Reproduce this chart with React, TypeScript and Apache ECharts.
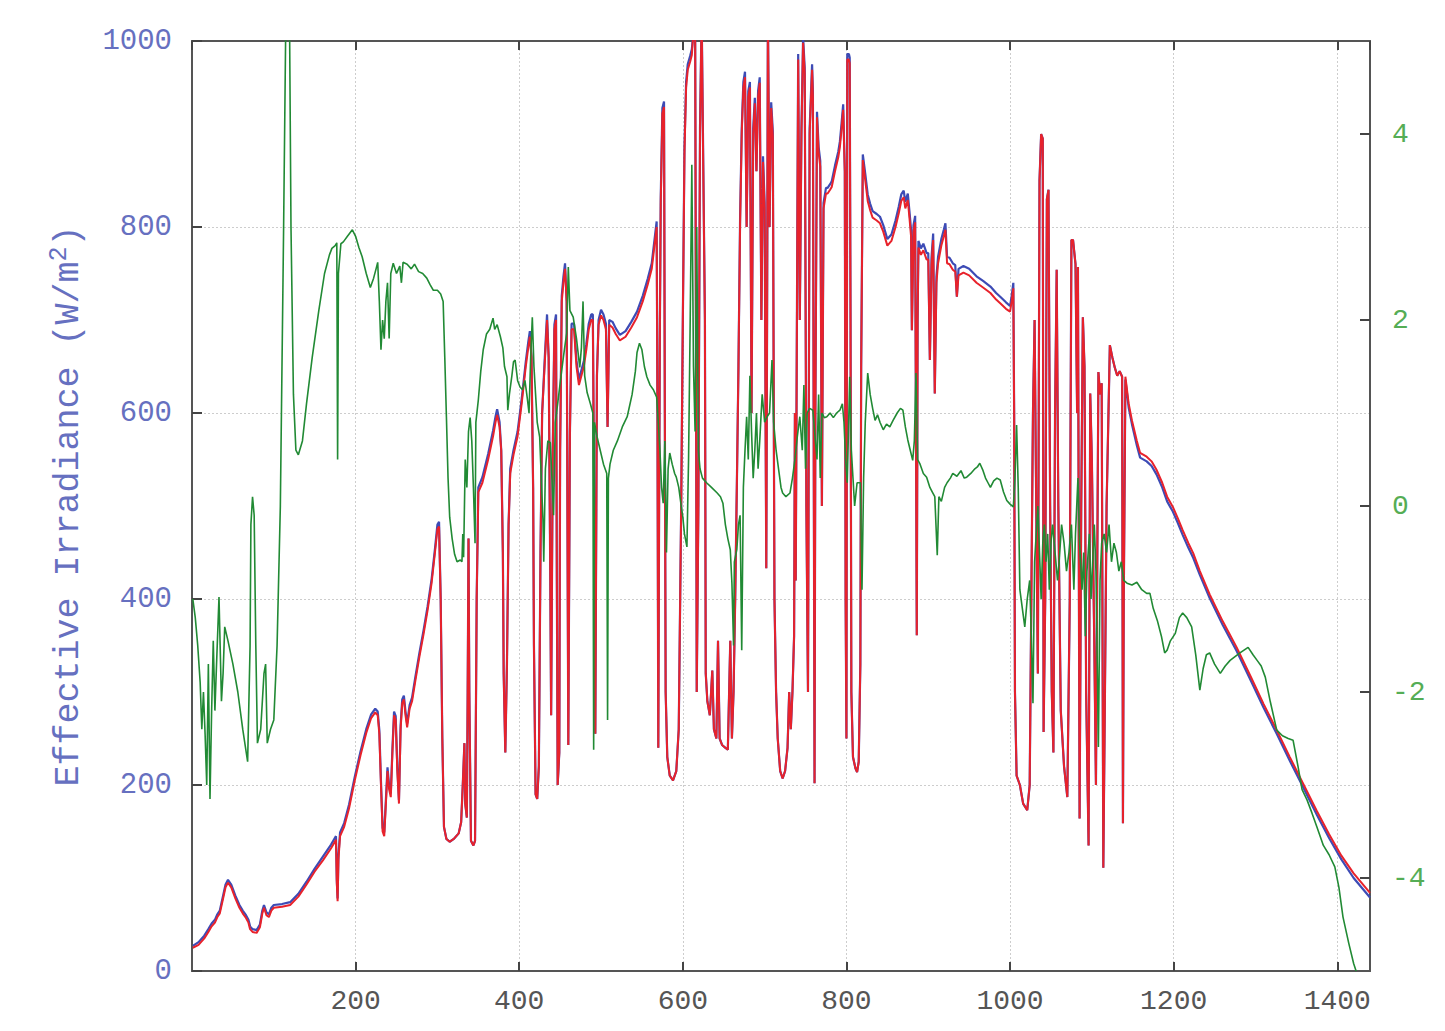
import React, { useEffect, useRef } from "react";
import * as echarts from "echarts";

// x: minute of day, y: effective irradiance W/m2 (red)
const redData: number[][] = [
  [1,25],[8,28],[15,35],[20,42],[24,48],[28,52],[31,58],[34,62],[38,78],[41,90],[44,95],[48,90],[53,78],[58,68],[62,62],[66,57],[69,52],[71,45],[74,42],[79,41],[83,47],[86,62],[88,68],[91,60],[94,58],[97,65],[100,68],[110,69],[120,71],[130,80],[140,93],[150,107],[160,119],[170,132],[176,141],[177,95],[178,75],[179,120],[181,145],[186,155],[192,175],[199,205],[206,232],[213,256],[219,272],[224,278],[227,275],[229,255],[231,200],[233,150],[235,145],[237,180],[239,215],[241,195],[243,187],[245,235],[247,275],[249,270],[251,215],[253,180],[255,260],[257,288],[259,292],[261,275],[263,262],[266,282],[269,290],[273,312],[278,338],[283,362],[288,388],[293,418],[297,450],[300,475],[302,478],
  [304,400],[306,250],[308,155],[311,142],[315,139],[320,142],[326,148],[329,160],[331,200],[333,245],[334,180],[336,165],[337,300],[338,465],[339,300],[341,140],[344,135],[346,140],[348,400],[350,515],[355,525],[362,550],[368,575],[371,590],[373,598],[376,585],[378,560],[380,450],[381,320],[383,235],[385,330],[387,480],[389,535],[393,555],[398,575],[403,610],[408,650],[411,670],[413,682],[415,660],[417,520],[418,350],[420,190],[422,185],[424,220],[426,450],[428,600],[431,650],[434,700],
  [436,660],[438,420],[439,275],[441,560],[443,690],[445,700],[446,420],[447,200],[449,235],[450,560],[452,720],[454,740],[456,755],[458,720],[459,480],[460,243],[462,580],[464,690],[467,690],[470,650],[473,630],[476,640],[479,650],[482,668],[485,690],[488,700],[490,700],[492,460],[493,255],[495,640],[497,695],[500,705],[503,700],[506,690],[508,585],[510,695],[514,692],[518,685],[523,678],[530,682],[537,692],[544,703],[551,720],[557,738],[562,755],[566,785],[568,800],[569,600],[570,240],[571,500],[572,700],[573,826],[575,922],[577,929],[578,600],[579,300],[581,230],[584,210],[588,205],[592,215],[595,260],[598,500],
  [600,700],[602,880],[604,950],[606,969],[609,978],[611,985],[613,1010],[615,1030],[616,700],[617,300],[619,500],[621,900],[623,1030],[625,861],[627,700],[628,320],[630,290],[633,275],[636,323],[638,260],[641,250],[643,355],[645,250],[648,243],[652,240],[655,238],[658,355],[660,250],[662,300],[664,400],[666,520],[668,650],[670,804],[672,900],[674,950],[676,961],[678,800],[680,940],[682,950],[684,600],[686,900],[688,933],[690,860],[692,940],[694,955],[696,700],[698,870],[700,820],[702,433],[703,700],[704,1030],[706,800],[708,928],[710,897],[712,400],[714,300],[716,250],[719,215],[722,207],[725,215],[728,240],[730,300],[732,260],[734,300],[736,360],[737,600],[738,420],[740,800],[741,980],[743,700],[745,900],[747,998],[749,965],[751,500],[753,300],[755,900],[758,969],[759,940],[761,202],[762,600],[764,918],[766,880],[768,865],[770,500],[772,820],[775,836],[777,836],[780,840],[782,843],[786,860],[790,875],[792,886],[794,905],[796,926],[798,860],[799,400],[800,250],[801,980],[803,980],[804,976],[805,700],[806,300],[808,230],[811,218],[813,214],[815,225],[817,330],[818,650],
  [820,872],[823,850],[826,828],[829,818],[832,810],[837,807],[841,804],[845,795],[850,780],[855,785],[860,800],[864,815],[867,828],[870,832],[872,820],[875,829],[877,810],[879,790],[880,689],[882,795],[884,805],[886,361],[887,700],[888,778],[891,770],[894,775],[898,765],[900,765],[902,657],[904,760],[906,786],[908,621],[910,740],[912,761],[916,780],[919,790],[921,797],[923,761],[926,760],[930,754],[933,752],[935,725],[937,748],[943,751],[950,748],[959,740],[967,735],[976,729],[983,722],[988,718],[995,712],[1000,709],[1002,720],[1004,734],
  [1005,600],[1006,300],[1008,210],[1012,200],[1016,180],[1021,173],[1024,200],[1026,400],[1028,600],[1030,700],[1032,500],[1034,320],[1036,850],[1038,900],[1040,895],[1041,257],[1043,400],[1045,830],[1047,840],[1049,500],[1051,300],[1053,235],[1055,600],[1057,754],[1059,500],[1062,280],[1066,220],[1070,187],[1073,400],[1075,786],[1077,786],[1080,760],[1082,600],[1083,757],[1085,164],[1087,500],[1089,703],[1091,650],[1093,300],[1096,135],[1098,621],[1100,550],[1103,350],[1105,200],[1108,644],[1110,620],[1112,632],[1114,111],[1116,300],[1118,500],[1122,673],[1125,660],[1128,649],[1131,640],[1134,645],[1137,639],[1138,159],[1139,400],[1141,639],
  [1145,610],[1149,592],[1155,570],[1159,557],[1167,553],[1173,548],[1179,539],[1186,525],[1192,510],[1199,499],[1205,487],[1211,474],[1218,460],[1224,449],[1232,430],[1244,405],[1260,376],[1277,348],[1295,315],[1310,287],[1326,259],[1342,230],[1358,202],[1375,172],[1390,147],[1405,124],[1420,105],[1440,84]
];

// blue irradiance series (nearly identical to red)
const blueData: number[][] = [
  [1,27],[8,31],[15,38],[20,45],[24,51],[28,55],[31,61],[34,65],[38,81],[41,93],[44,98],[48,93],[53,81],[58,71],[62,65],[66,60],[69,55],[71,48],[74,45],[79,44],[83,50],[86,65],[88,71],[91,63],[94,61],[97,68],[100,71],[110,72],[120,74],[130,83],[140,96],[150,110],[160,123],[170,136],[176,145],[177,98],[178,78],[179,124],[181,149],[186,159],[192,179],[199,209],[206,236],[213,260],[219,276],[224,282],[227,279],[229,259],[231,204],[233,154],[235,149],[237,184],[239,219],[241,199],[243,191],[245,239],[247,279],[249,274],[251,219],[253,184],[255,264],[257,292],[259,296],[261,279],[263,266],[266,286],[269,294],[273,316],[278,342],[283,366],[288,392],[293,422],[297,454],[300,480],[302,483],
  [304,400],[306,250],[308,155],[311,142],[315,139],[320,142],[326,148],[329,160],[331,200],[333,245],[334,180],[336,165],[337,300],[338,465],[339,300],[341,140],[344,135],[346,140],[348,400],[350,520],[355,531],[362,556],[368,581],[371,596],[373,604],[376,590],[378,560],[380,450],[381,320],[383,235],[385,330],[387,480],[389,540],[393,560],[398,580],[403,615],[408,655],[411,676],[413,688],[415,660],[417,520],[418,350],[420,190],[422,185],[424,220],[426,450],[428,600],[431,655],[434,706],
  [436,660],[438,420],[439,275],[441,560],[443,695],[445,706],[446,420],[447,200],[449,235],[450,560],[452,726],[454,746],[456,761],[458,720],[459,480],[460,243],[462,580],[464,696],[467,696],[470,656],[473,636],[476,646],[479,656],[482,674],[485,696],[488,706],[490,706],[492,460],[493,255],[495,640],[497,700],[500,711],[503,706],[506,696],[508,585],[510,700],[514,698],[518,691],[523,684],[530,688],[537,698],[544,709],[551,726],[557,744],[562,761],[566,791],[568,806],[569,600],[570,240],[571,500],[572,700],[573,832],[575,928],[577,935],[578,600],[579,300],[581,230],[584,210],[588,205],[592,215],[595,260],[598,500],
  [600,700],[602,886],[604,956],[606,975],[609,984],[611,991],[613,1010],[615,1030],[616,700],[617,300],[619,500],[621,906],[623,1030],[625,867],[627,700],[628,320],[630,290],[633,275],[636,323],[638,260],[641,250],[643,355],[645,250],[648,243],[652,240],[655,238],[658,355],[660,250],[662,300],[664,400],[666,520],[668,650],[670,810],[672,906],[674,956],[676,967],[678,800],[680,946],[682,956],[684,600],[686,906],[688,939],[690,860],[692,946],[694,961],[696,700],[698,876],[700,826],[702,433],[703,700],[704,1030],[706,800],[708,934],[710,903],[712,400],[714,300],[716,250],[719,215],[722,207],[725,215],[728,240],[730,300],[732,260],[734,300],[736,360],[737,600],[738,420],[740,806],[741,986],[743,700],[745,906],[747,1004],[749,971],[751,500],[753,300],[755,906],[758,975],[759,946],[761,202],[762,600],[764,924],[766,886],[768,871],[770,500],[772,826],[775,842],[777,842],[780,846],[782,849],[786,866],[790,881],[792,892],[794,911],[796,932],[798,860],[799,400],[800,250],[801,986],[803,986],[804,982],[805,700],[806,300],[808,230],[811,218],[813,214],[815,225],[817,330],[818,650],
  [820,878],[823,857],[826,835],[829,825],[832,817],[837,814],[841,811],[845,802],[850,787],[855,792],[860,807],[864,822],[867,835],[870,839],[872,827],[875,836],[877,817],[879,797],[880,689],[882,802],[884,812],[886,361],[887,700],[888,785],[891,777],[894,782],[898,772],[900,772],[902,657],[904,767],[906,793],[908,621],[910,747],[912,768],[916,787],[919,797],[921,804],[923,768],[926,767],[930,761],[933,759],[935,725],[937,755],[943,758],[950,755],[959,747],[967,742],[976,736],[983,729],[988,725],[995,719],[1000,715],[1002,726],[1004,740],
  [1005,600],[1006,300],[1008,210],[1012,200],[1016,180],[1021,173],[1024,200],[1026,400],[1028,600],[1030,700],[1032,500],[1034,320],[1036,850],[1038,900],[1040,895],[1041,257],[1043,400],[1045,830],[1047,840],[1049,500],[1051,300],[1053,235],[1055,600],[1057,754],[1059,500],[1062,280],[1066,220],[1070,187],[1073,400],[1075,786],[1077,786],[1080,760],[1082,600],[1083,757],[1085,164],[1087,500],[1089,703],[1091,650],[1093,300],[1096,135],[1098,621],[1100,550],[1103,350],[1105,200],[1108,644],[1110,620],[1112,632],[1114,111],[1116,300],[1118,500],[1122,673],[1125,660],[1128,649],[1131,640],[1134,645],[1137,639],[1138,159],[1139,400],[1141,636],
  [1145,606],[1149,588],[1155,565],[1159,552],[1167,548],[1173,543],[1179,534],[1186,520],[1192,505],[1199,494],[1205,482],[1211,469],[1218,455],[1224,444],[1232,426],[1244,401],[1260,372],[1277,344],[1295,311],[1310,283],[1326,255],[1342,226],[1358,198],[1375,168],[1390,143],[1405,120],[1420,100],[1440,79]
];

// green series on the right axis
const greenData: number[][] = [
  [1,-1.0],[4,-1.2],[7,-1.5],[10,-1.9],[12,-2.4],[14,-2.0],[16,-2.45],[18,-3.0],[20,-1.7],[22,-3.15],[24,-2.2],[26,-1.45],[28,-2.2],[30,-1.7],[33,-0.98],[36,-2.1],[38,-1.8],[40,-1.3],[44,-1.45],[50,-1.7],[56,-2.0],[62,-2.4],[68,-2.75],[71,-1.5],[72,-0.2],[74,0.1],[76,-0.1],[78,-1.5],[80,-2.55],[84,-2.4],[88,-1.8],[90,-1.7],[92,-2.55],[96,-2.4],[100,-2.3],[104,-1.5],[108,0],[112,3],[115,5.5],[119,5.5],[121,3],[124,1.2],[127,0.6],[130,0.55],[135,0.7],[140,1.1],[147,1.6],[155,2.1],[162,2.5],[168,2.7],[171,2.77],[175,2.8],[177,2.83],[178,0.5],[179,2.5],[182,2.82],[185,2.84],[190,2.9],[196,2.97],[200,2.9],[204,2.78],[208,2.68],[213,2.5],[218,2.35],[222,2.45],[225,2.55],[227,2.62],[229,2.2],[231,1.68],[233,2.0],[235,1.8],[237,2.2],[239,2.4],[241,1.8],[243,2.5],[246,2.61],[250,2.5],[254,2.58],[256,2.4],[258,2.62],[263,2.6],[268,2.55],[272,2.6],[277,2.52],[282,2.5],[287,2.45],[291,2.38],[295,2.32],[300,2.32],[304,2.28],[307,2.2],[309,1.6],[311,0.96],[313,0.3],[315,-0.12],[318,-0.35],[321,-0.52],[324,-0.6],[328,-0.58],[330,-0.6],[331,-0.3],[332,-0.55],[334,0.5],[336,0.2],[338,0.8],[340,0.95],[342,0.7],[344,0.2],[346,-0.4],[347,0.9],[350,1.14],[353,1.45],[356,1.68],[360,1.85],[364,1.9],[368,2.02],[370,1.9],[373,1.95],[377,1.82],[380,1.7],[382,1.5],[385,1.39],[386,1.03],[388,1.2],[391,1.4],[393,1.55],[395,1.57],[398,1.35],[401,1.28],[404,1.25],[407,1.35],[410,1.15],[412,1.0],[414,1.6],[416,2.03],[418,1.5],[420,1.2],[422,0.9],[425,0.74],[427,0.3],[429,-0.15],[430,-0.6],[432,0.4],[435,0.7],[438,0.68],[440,0.3],[442,-0.1],[444,0.9],[447,1.1],[450,1.32],[454,1.6],[458,1.86],[460,2.57],[462,2.1],[466,2.03],[470,1.8],[474,1.49],[476,1.7],[478,2.2],[480,1.4],[483,1.22],[487,1.1],[490,1.0],[491,-2.62],[492,0.9],[495,0.75],[499,0.6],[503,0.45],[507,0.35],[508,-2.3],[509,0.3],[511,0.45],[515,0.6],[520,0.7],[526,0.85],[532,0.96],[538,1.2],[542,1.45],[544,1.65],[547,1.75],[550,1.68],[553,1.5],[556,1.39],[560,1.3],[564,1.25],[568,1.17],[570,0.9],[572,0.6],[574,0.2],[576,0.03],[578,0.7],[580,-0.5],[582,0.4],[584,0.57],[587,0.45],[590,0.35],[592,0.31],[595,0.2],[598,0.0],[600,-0.12],[602,-0.3],[605,-0.44],[607,0.5],[609,2.0],[611,3.67],[613,1.5],[615,0.8],[617,3.0],[619,0.6],[621,0.4],[624,0.3],[629,0.25],[635,0.2],[642,0.14],[646,0.1],[649,0.03],[652,-0.2],[655,-0.35],[658,-0.47],[660,-0.83],[662,-1.5],[663,-0.6],[666,-0.47],[668,-0.2],[670,-0.1],[672,-1.55],[674,0.2],[676,0.6],[678,0.96],[680,0.5],[682,1.4],[684,0.8],[686,0.3],[688,0.6],[690,1.0],[692,0.4],[694,0.7],[697,1.2],[700,0.9],[703,0.96],[706,1.0],[709,1.57],[711,0.9],[714,0.6],[717,0.4],[720,0.2],[722,0.14],[726,0.1],[731,0.14],[734,0.3],[737,0.5],[740,0.75],[743,0.96],[746,0.6],[748,1.3],[750,0.4],[752,1.0],[755,1.05],[759,1.03],[762,0.7],[764,0.5],[766,1.2],[768,0.3],[770,1.0],[773,0.95],[776,0.96],[780,1.0],[784,0.95],[788,1.0],[792,1.03],[795,1.1],[797,0.9],[799,0.5],[801,0.25],[804,1.39],[806,0.6],[808,0.3],[810,0.0],[813,0.25],[817,0.25],[819,-0.9],[821,0.3],[823,0.9],[826,1.43],[829,1.2],[832,1.05],[835,0.92],[838,0.98],[841,0.9],[845,0.82],[849,0.88],[853,0.85],[857,0.92],[862,1.0],[866,1.05],[869,1.03],[872,0.85],[875,0.71],[878,0.6],[881,0.49],[883,0.7],[885,1.43],[887,0.5],[890,0.45],[894,0.35],[898,0.31],[902,0.2],[905,0.15],[908,0.1],[911,-0.53],[913,0.1],[916,0.05],[920,0.2],[923,0.25],[927,0.3],[930,0.35],[935,0.32],[940,0.38],[944,0.3],[947,0.31],[952,0.35],[957,0.4],[960,0.42],[963,0.46],[967,0.38],[970,0.3],[973,0.25],[976,0.2],[980,0.27],[984,0.3],[988,0.28],[992,0.15],[996,0.06],[1000,0.02],[1004,-0.01],[1006,0.3],[1008,0.87],[1010,0.2],[1012,-0.9],[1015,-1.1],[1018,-1.3],[1021,-1.0],[1024,-0.8],[1026,-1.4],[1028,-2.12],[1030,-0.6],[1032,-0.3],[1034,0.0],[1036,-0.5],[1038,-1.0],[1040,-0.4],[1042,-0.2],[1044,-0.6],[1046,-0.3],[1048,-0.9],[1050,-0.4],[1052,-0.2],[1055,-0.5],[1058,-0.8],[1060,-0.6],[1063,-0.2],[1066,-0.4],[1069,-0.7],[1072,-0.5],[1075,-0.2],[1078,-0.9],[1080,-0.3],[1083,0.3],[1085,-0.4],[1088,-0.9],[1090,-0.5],[1092,-1.4],[1094,-0.7],[1097,-0.3],[1099,-1.0],[1101,-0.6],[1103,-0.2],[1105,-0.7],[1108,-2.59],[1110,-0.8],[1112,-0.4],[1115,-0.3],[1118,-0.5],[1121,-0.2],[1124,-0.6],[1127,-0.4],[1130,-0.5],[1133,-0.7],[1136,-0.6],[1139,-0.8],[1143,-0.83],[1149,-0.85],[1155,-0.82],[1161,-0.9],[1167,-0.94],[1171,-0.94],[1175,-1.1],[1180,-1.23],[1185,-1.4],[1189,-1.58],[1192,-1.55],[1196,-1.45],[1202,-1.37],[1207,-1.2],[1211,-1.15],[1216,-1.2],[1222,-1.3],[1227,-1.6],[1232,-1.98],[1236,-1.75],[1240,-1.6],[1244,-1.58],[1250,-1.7],[1257,-1.8],[1263,-1.72],[1269,-1.66],[1275,-1.62],[1281,-1.58],[1286,-1.55],[1291,-1.52],[1297,-1.6],[1302,-1.66],[1307,-1.72],[1312,-1.84],[1318,-2.1],[1326,-2.41],[1333,-2.47],[1340,-2.5],[1346,-2.52],[1352,-2.8],[1357,-3.05],[1363,-3.16],[1369,-3.3],[1375,-3.45],[1383,-3.65],[1390,-3.75],[1397,-3.88],[1402,-4.1],[1407,-4.42],[1414,-4.7],[1420,-4.92],[1423,-5.0]
];

const rightTickValues = [-4, -2, 0, 2, 4];
const yAxisTitle = "Effective Irradiance (W/m{sup|2})";

const MONO = "'Liberation Mono', 'DejaVu Sans Mono', monospace";
const plain = (v: number) => String(v);

export default function App() {
  const ref = useRef<HTMLDivElement>(null);
  useEffect(() => {
    if (!ref.current) return;
    const chart = echarts.init(ref.current, null, { renderer: "svg" });
    const gridLine = { show: true, lineStyle: { color: "#cdcdcd", type: [2, 2], width: 1 } };
    const axisLine = { show: true, onZero: false, lineStyle: { color: "#555", width: 2 } };
    chart.setOption({
      animation: false,
      backgroundColor: "#ffffff",
      grid: { left: 192, right: 75, top: 41, bottom: 60, show: true, borderColor: "#666", borderWidth: 1.5, containLabel: false },
      xAxis: [
        {
          type: "value", min: 0, max: 1440, interval: 200, position: "bottom",
          axisLine, axisTick: { inside: true, length: 9, lineStyle: { color: "#444", width: 2 } },
          axisLabel: { showMinLabel: false, margin: 16, color: "#555", fontFamily: MONO, fontSize: 28, formatter: plain },
          splitLine: gridLine,
        },
        {
          type: "value", min: 0, max: 1440, interval: 200, position: "top",
          axisLine, axisTick: { inside: true, length: 9, lineStyle: { color: "#444", width: 2 } },
          axisLabel: { show: false }, splitLine: { show: false },
        },
      ],
      yAxis: [
        {
          type: "value", min: 0, max: 1000, interval: 200, position: "left",
          name: yAxisTitle, nameLocation: "middle", nameGap: 94, nameRotate: 90,
          nameTextStyle: {
            color: "#6670c0", fontFamily: MONO, fontSize: 35, lineHeight: 44,
            rich: { sup: { color: "#6670c0", fontFamily: MONO, fontSize: 25, verticalAlign: "top", lineHeight: 44 } },
          },
          axisLine, axisTick: { inside: true, length: 10, lineStyle: { color: "#444", width: 2 } },
          axisLabel: { margin: 20, color: "#6670c0", fontFamily: MONO, fontSize: 29, formatter: plain },
          splitLine: gridLine,
        },
        {
          type: "value", min: -5, max: 5, position: "right",
          axisLine, axisTick: { inside: true, length: 10, customValues: rightTickValues, lineStyle: { color: "#444", width: 2 } },
          axisLabel: { customValues: rightTickValues, margin: 22, color: "#55ad55", fontFamily: MONO, fontSize: 28, formatter: plain },
          splitLine: { show: false },
        },
      ],
      series: [
        { type: "line", name: "blue", data: blueData, xAxisIndex: 0, yAxisIndex: 0, showSymbol: false, clip: true,
          lineStyle: { color: "#3d4bb5", width: 2.2 } },
        { type: "line", name: "red", data: redData, xAxisIndex: 0, yAxisIndex: 0, showSymbol: false, clip: true,
          lineStyle: { color: "#e8222b", width: 2 } },
        { type: "line", name: "green", data: greenData, xAxisIndex: 0, yAxisIndex: 1, showSymbol: false, clip: true,
          lineStyle: { color: "#218a34", width: 1.6 } },
      ],
    });
    return () => chart.dispose();
  }, []);
  return <div ref={ref} style={{ position: "fixed", left: 0, top: 0, width: 1445, height: 1031 }} />;
}
